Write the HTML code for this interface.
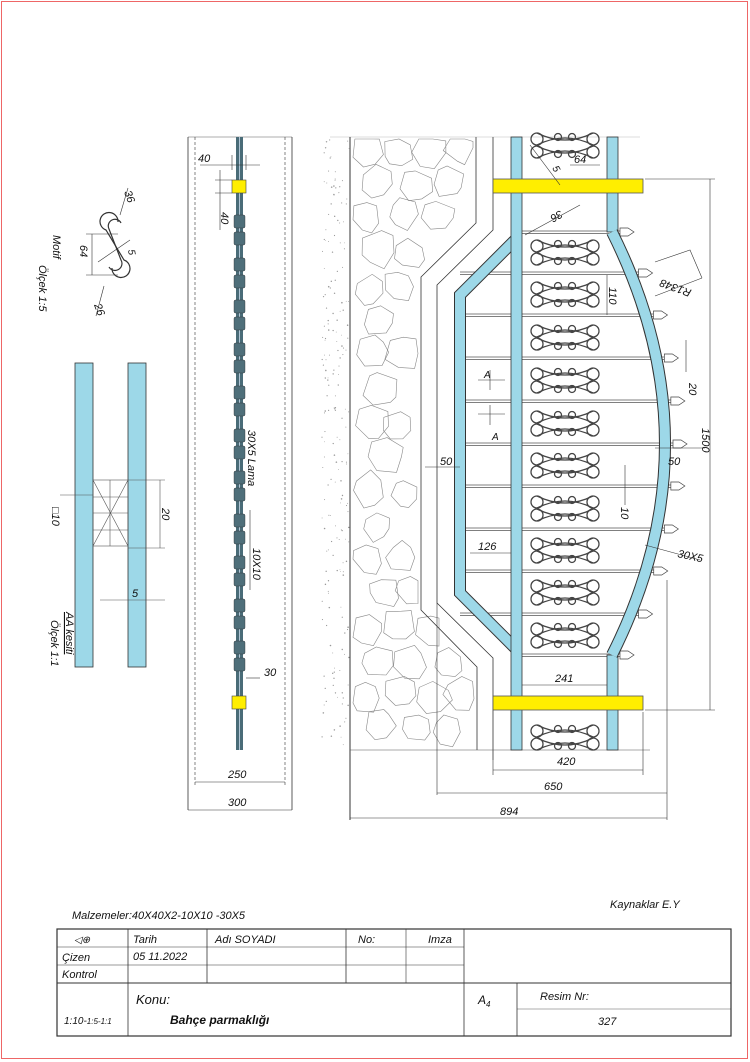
<!DOCTYPE html>
<html><head><meta charset="utf-8"><style>
html,body{margin:0;padding:0;background:#fff}
svg{display:block}
text{font-family:"Liberation Sans",sans-serif;font-style:italic;fill:#111}
</style></head><body>
<svg id="s" width="750" height="1062" viewBox="0 0 750 1062" xmlns="http://www.w3.org/2000/svg">
<rect x="1.5" y="1.5" width="746" height="1057" fill="none" stroke="#e66" stroke-width="1"/>

<!-- Left motif -->
<g fill="none" stroke="#333" stroke-width="1.2">
<path d="M118 222 a9 9 0 1 0 -12 8 L124 260 a9 9 0 1 1 -12 8"/>
<path d="M121 223 a6 6 0 1 0 -12 6 L121 260 a6 6 0 1 1 -12 7"/>
</g>
<g stroke="#333" stroke-width="0.6" fill="none">
<line x1="86" y1="234" x2="118" y2="234"/><line x1="86" y1="275" x2="118" y2="275"/>
<line x1="92" y1="234" x2="92" y2="275"/>
<line x1="120" y1="215" x2="128" y2="188"/><line x1="104" y1="286" x2="96" y2="316"/>
<line x1="98" y1="262" x2="130" y2="240"/>
</g>
<text transform="translate(124,192) rotate(70)" font-size="11">36</text>
<text transform="translate(94,305) rotate(70)" font-size="11">26</text>
<text transform="translate(128,250) rotate(80)" font-size="10">5</text>
<text transform="translate(80,245) rotate(90)" font-size="11">64</text>
<text transform="translate(53,235) rotate(90)" font-size="11">Motif</text>
<text transform="translate(39,265) rotate(90)" font-size="11">Ölçek 1:5</text>

<!-- AA section -->
<rect x="75" y="363" width="18" height="304" fill="#9dd8e8" stroke="#333" stroke-width="0.8"/>
<rect x="128" y="363" width="18" height="304" fill="#9dd8e8" stroke="#333" stroke-width="0.8"/>
<g stroke="#555" stroke-width="0.6" fill="none">
<rect x="93" y="480" width="35" height="66"/>
<line x1="93" y1="480" x2="128" y2="546"/><line x1="128" y1="480" x2="93" y2="546"/>
<line x1="93" y1="513" x2="128" y2="513"/><line x1="110" y1="480" x2="110" y2="546"/>
<line x1="93" y1="497" x2="128" y2="497"/><line x1="93" y1="530" x2="128" y2="530"/>
<line x1="128" y1="480" x2="165" y2="480"/><line x1="128" y1="548" x2="165" y2="548"/>
<line x1="160" y1="480" x2="160" y2="548"/>
<line x1="100" y1="600" x2="165" y2="600"/>
<line x1="60" y1="495" x2="93" y2="495"/>
</g>
<text transform="translate(162,508) rotate(90)" font-size="11">20</text>
<text x="132" y="597" font-size="11">5</text>
<text transform="translate(52,507) rotate(90)" font-size="11">□10</text>
<text transform="translate(66,612) rotate(90)" font-size="11" text-decoration="underline">AA kesiti</text>
<text transform="translate(51,620) rotate(90)" font-size="11">Ölçek 1:1</text>

<!-- middle elevation -->
<g stroke="#333" stroke-width="0.8" fill="none">
<line x1="188" y1="137" x2="188" y2="810"/><line x1="292" y1="137" x2="292" y2="810"/>
<line x1="195" y1="137" x2="195" y2="785" stroke-dasharray="3 2" stroke-width="0.6"/>
<line x1="285" y1="137" x2="285" y2="785" stroke-dasharray="3 2" stroke-width="0.6"/>
<line x1="188" y1="137" x2="292" y2="137" stroke-width="0.4"/>
</g>
<rect x="236" y="137" width="7" height="613" fill="#4a6c78"/>
<line x1="239.5" y1="137" x2="239.5" y2="750" stroke="#cde" stroke-width="0.8"/>
<g id="blocks"></g>
<rect x="232" y="180" width="14" height="13" fill="#ffee00" stroke="#444" stroke-width="0.6"/>
<rect x="232" y="696" width="14" height="13" fill="#ffee00" stroke="#444" stroke-width="0.6"/>
<g stroke="#333" stroke-width="0.6">
<line x1="200" y1="165" x2="260" y2="165"/><line x1="232" y1="155" x2="232" y2="170"/><line x1="246" y1="155" x2="246" y2="170"/>
<line x1="215" y1="180" x2="232" y2="180"/><line x1="215" y1="193" x2="232" y2="193"/><line x1="220" y1="170" x2="220" y2="230"/>
<line x1="246" y1="678" x2="260" y2="678"/><line x1="250" y1="510" x2="250" y2="590"/>
<line x1="195" y1="782" x2="285" y2="782"/><line x1="188" y1="810" x2="292" y2="810"/>
</g>
<text x="198" y="162" font-size="11">40</text>
<text transform="translate(221,212) rotate(90)" font-size="11">40</text>
<text transform="translate(248,430) rotate(90)" font-size="11">30X5 Lama</text>
<text transform="translate(253,548) rotate(90)" font-size="11">10X10</text>
<text x="264" y="676" font-size="11">30</text>
<text x="228" y="778" font-size="11">250</text>
<text x="228" y="806" font-size="11">300</text>

<!-- wall -->
<g id="stip" fill="#999"></g>
<g id="stones" fill="none" stroke="#888" stroke-width="0.6"></g>
<line x1="330" y1="137" x2="640" y2="137" stroke="#bbb" stroke-width="0.5"/>
<line x1="350" y1="137" x2="350" y2="820" stroke="#333" stroke-width="1"/>
<g stroke="#333" stroke-width="0.8" fill="none">
<path d="M476 137 L476 223 L421 277 L421 610 L477 667 L477 750"/>
<path d="M493 137 L493 230 L437 285 L437 603 L493 658 L493 760"/>
</g>
<line x1="350" y1="750" x2="650" y2="750" stroke="#555" stroke-width="0.6"/>

<!-- pickets -->
<g id="pick"></g>
<!-- motifs -->
<g id="mot" fill="none" stroke="#444" stroke-width="1.3"></g>

<!-- left bent bar -->
<path d="M517 238 L460 295 L460 593 L517 650" fill="none" stroke="#333" stroke-width="12"/>
<path d="M517 238 L460 295 L460 593 L517 650" fill="none" stroke="#9dd8e8" stroke-width="10"/>
<!-- posts -->
<rect x="511" y="137" width="11" height="613" fill="#9dd8e8" stroke="#333" stroke-width="0.8"/>
<rect x="607" y="137" width="11" height="95" fill="#9dd8e8" stroke="#333" stroke-width="0.8"/>
<rect x="607" y="655" width="11" height="95" fill="#9dd8e8" stroke="#333" stroke-width="0.8"/>
<path d="M612 232 Q718 444 612 655" fill="none" stroke="#333" stroke-width="12"/>
<path d="M612 232 Q718 444 612 655" fill="none" stroke="#9dd8e8" stroke-width="10"/>
<rect x="493" y="179" width="150" height="14" fill="#ffee00" stroke="#555" stroke-width="0.8"/>
<rect x="493" y="696" width="150" height="14" fill="#ffee00" stroke="#555" stroke-width="0.8"/>

<!-- dimensions right -->
<g stroke="#333" stroke-width="0.6" fill="none">
<line x1="493" y1="760" x2="493" y2="775"/><line x1="643" y1="712" x2="643" y2="775"/>
<line x1="493" y1="770" x2="643" y2="770"/>
<line x1="437" y1="603" x2="437" y2="795"/><line x1="667" y1="580" x2="667" y2="820"/>
<line x1="437" y1="793" x2="667" y2="793"/>
<line x1="350" y1="818" x2="667" y2="818"/>
<line x1="522" y1="685" x2="607" y2="685"/>
<line x1="645" y1="179" x2="715" y2="179"/><line x1="645" y1="710" x2="715" y2="710"/>
<line x1="710" y1="179" x2="710" y2="710"/>
<line x1="655" y1="448" x2="705" y2="448"/>
<line x1="470" y1="553" x2="511" y2="553"/>
<line x1="425" y1="467" x2="460" y2="467"/>
<line x1="625" y1="465" x2="625" y2="505"/>
<line x1="686" y1="340" x2="686" y2="372"/>
<line x1="607" y1="275" x2="607" y2="315"/>
<line x1="655" y1="296" x2="702" y2="278"/><path d="M702 278 L690 250 L655 262"/>
<line x1="645" y1="545" x2="700" y2="560"/>
<line x1="530" y1="145" x2="560" y2="185"/>
<line x1="570" y1="165" x2="600" y2="165"/>
<line x1="525" y1="235" x2="580" y2="205"/>
<line x1="478" y1="380" x2="505" y2="380"/><line x1="478" y1="414" x2="505" y2="414"/>
<line x1="490" y1="370" x2="490" y2="390"/><line x1="490" y1="405" x2="490" y2="425"/>
</g>
<text x="557" y="765" font-size="11">420</text>
<text x="544" y="790" font-size="11">650</text>
<text x="500" y="815" font-size="11">894</text>
<text x="555" y="682" font-size="11">241</text>
<text transform="translate(702,428) rotate(90)" font-size="11">1500</text>
<text x="668" y="465" font-size="11">50</text>
<text x="440" y="465" font-size="11">50</text>
<text x="478" y="550" font-size="11">126</text>
<text transform="translate(621,507) rotate(90)" font-size="11">10</text>
<text transform="translate(689,383) rotate(90)" font-size="11">20</text>
<text transform="translate(609,287) rotate(90)" font-size="11">110</text>
<text transform="translate(692,290) rotate(-160)" font-size="11">R1348</text>
<text transform="translate(677,557) rotate(12)" font-size="11">30X5</text>
<text x="574" y="163" font-size="11">64</text>
<text transform="translate(552,168) rotate(60)" font-size="10">5</text>
<text transform="translate(560,210) rotate(150)" font-size="11">36</text>
<text x="484" y="378" font-size="10">A</text>
<text x="492" y="440" font-size="10">A</text>

<!-- notes -->
<text x="610" y="908" font-size="11">Kaynaklar E.Y</text>
<text x="72" y="919" font-size="11">Malzemeler:40X40X2-10X10 -30X5</text>

<!-- title block -->
<g stroke="#333" fill="none">
<rect x="57" y="929" width="674" height="107" stroke-width="1.2"/>
<line x1="57" y1="983" x2="731" y2="983" stroke-width="1"/>
<line x1="128" y1="929" x2="128" y2="1036" stroke-width="0.8"/>
<line x1="207" y1="929" x2="207" y2="983" stroke-width="0.8"/>
<line x1="346" y1="929" x2="346" y2="983" stroke-width="0.8"/>
<line x1="406" y1="929" x2="406" y2="983" stroke-width="0.6"/>
<line x1="464" y1="929" x2="464" y2="1036" stroke-width="0.8"/>
<line x1="517" y1="983" x2="517" y2="1036" stroke-width="0.8"/>
<line x1="57" y1="947" x2="464" y2="947" stroke-width="0.6"/>
<line x1="57" y1="965" x2="464" y2="965" stroke-width="0.6"/>
<line x1="517" y1="1009" x2="731" y2="1009" stroke-width="0.4"/>
</g>
<text x="74" y="943" font-size="10" fill="#999">◁⊕</text>
<text x="133" y="943" font-size="11">Tarih</text>
<text x="215" y="943" font-size="11">Adı SOYADI</text>
<text x="358" y="943" font-size="11">No:</text>
<text x="428" y="943" font-size="11">Imza</text>
<text x="62" y="961" font-size="11">Çizen</text>
<text x="133" y="960" font-size="11">05 11.2022</text>
<text x="62" y="978" font-size="11">Kontrol</text>
<text x="136" y="1004" font-size="13">Konu:</text>
<text x="170" y="1024" font-size="12" font-weight="bold">Bahçe parmaklığı</text>
<text x="64" y="1024" font-size="10">1:10-<tspan font-size="8">1:5-1:1</tspan></text>
<text x="478" y="1004" font-size="12">A<tspan font-size="8" dy="3">4</tspan></text>
<text x="540" y="1000" font-size="11">Resim Nr:</text>
<text x="598" y="1025" font-size="11">327</text>
</svg>
<script>
var NS="http://www.w3.org/2000/svg";
function el(p,t,a){var e=document.createElementNS(NS,t);for(var k in a)e.setAttribute(k,a[k]);p.appendChild(e);return e;}
var picks=[273,315,358,401,444,486,529,571,614];
var b=document.getElementById("blocks");
[230].concat(picks,[656]).forEach(function(y){
 el(b,"rect",{x:234,y:y-15,width:11,height:13,rx:1.5,fill:"#4f6f7a",stroke:"#333","stroke-width":0.4});
 el(b,"rect",{x:234,y:y+2,width:11,height:13,rx:1.5,fill:"#4f6f7a",stroke:"#333","stroke-width":0.4});
});
var p=document.getElementById("pick");
function arcX(y){var t=(y-232)/(655-232);return 612+2*t*(1-t)*106;}
var all=[232].concat(picks,[655]);
all.forEach(function(y,i){
 var x0=(i==0||i==all.length-1)?517:460, x1=arcX(y)+8;
 el(p,"line",{x1:x0,y1:y-1,x2:x1,y2:y-1,stroke:"#555","stroke-width":0.8});
 el(p,"line",{x1:x0,y1:y+1.5,x2:x1,y2:y+1.5,stroke:"#555","stroke-width":0.8});
 el(p,"path",{d:"M"+x1+" "+(y-4)+" L"+(x1+8)+" "+(y-4)+" L"+(x1+14)+" "+y+" L"+(x1+8)+" "+(y+4)+" L"+x1+" "+(y+4)+" Z",fill:"#fff",stroke:"#444","stroke-width":0.7});
});
var m=document.getElementById("mot");
function row(cy,flip){
 var s=flip?-1:1;
 [537,593].forEach(function(cx){el(m,"circle",{cx:cx,cy:cy,r:6});});
 el(m,"path",{d:"M537 "+(cy-6*s)+" Q565 "+(cy+8*s)+" 593 "+(cy-6*s)});
 el(m,"path",{d:"M537 "+(cy+6*s)+" Q565 "+(cy-8*s)+" 593 "+(cy+6*s)});
 el(m,"circle",{cx:558,cy:cy-2*s,r:3.5});el(m,"circle",{cx:572,cy:cy-2*s,r:3.5});
}
var blocks=[145,252,294,337,380,423,465,508,550,592,635,737];
blocks.forEach(function(y){row(y-6,false);row(y+7,true);});
var st=document.getElementById("stip");var seed=7;function r(){seed=(seed*9301+49297)%233280;return seed/233280;}
for(var i=0;i<200;i++){el(st,"circle",{cx:322+r()*27,cy:140+r()*610,r:0.4+r()*0.4});}
var sg=document.getElementById("stones");
var cells=[];
for(var y=150;y<750;y+=34){for(var x=370;x<470;x+=32){
 var lim=420; if(y<225)lim=475-(y>205?(y-205)*0.9:0); else if(y>650) lim=476; else if(y<280) lim=420+(280-y);
 else if(y>605) lim=420+(y-605);
 var cx=x+(r()-0.5)*10+((Math.floor(y/34)%2)?12:0), cy=y+(r()-0.5)*8;
 if(cx+8>lim) continue; cells.push([cx,cy,15+r()*4,lim]);}}
cells.forEach(function(c){var pts=[];var n=7;for(var k=0;k<n;k++){var a=k/n*Math.PI*2+r()*0.5;var rr=c[2]*(0.8+r()*0.3);
 var x=c[0]+Math.cos(a)*rr, y=c[1]+Math.sin(a)*rr;
 x=Math.max(353,Math.min(x,c[3]-2));pts.push(x.toFixed(1)+","+Math.max(139,Math.min(y,748)).toFixed(1));}
 el(sg,"polygon",{points:pts.join(" ")});});
</script>
</body></html>
